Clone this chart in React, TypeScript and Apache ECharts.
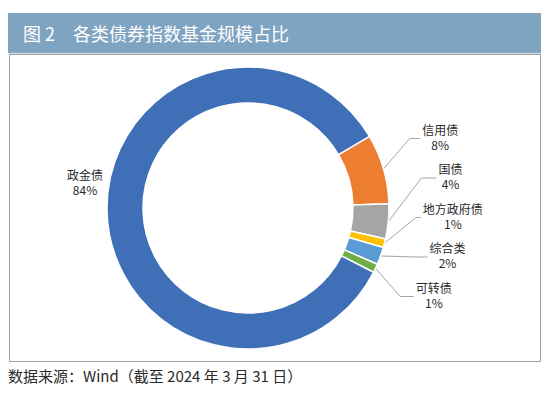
import React, { useEffect, useRef } from "react";
import * as echarts from "echarts";

// ---- data ----
const categories = ["信用债", "国债", "地方政府债", "综合类", "可转债", "政金债"];
const shares = [8, 4, 1, 2, 1, 84]; // %
const sliceColors = ["#ED7D31", "#A5A5A5", "#FFC000", "#5B9BD5", "#70AD47", "#3F6FB6"];
const titleNo = "图 2";
const titleText = "各类债券指数基金规模占比";
const sourceText = "数据来源：Wind（截至 2024 年 3 月 31 日）";

// ---- layout ----
const W = 550;
const H = 393;
const CX = 248;
const CY = 208;
const R_IN = 105;
const R_OUT = 141;
const START_ANGLE = 30.5;
const RIGHT_TOP = -71.5; // first right label centre, relative to CY
const PITCH = 39.5; // spacing between right labels
const LABEL_R = 205; // radius of the curve the label centres follow
const BEND_R = 176; // radius where leader lines bend
const MAIN_INDEX = 5;
const FONT = "'Noto Sans CJK SC', 'Noto Sans', sans-serif";

export default function App() {
  const ref = useRef<HTMLDivElement>(null);

  useEffect(() => {
    if (!ref.current) return;
    const chart = echarts.init(ref.current, undefined, { renderer: "svg" });
    const total = shares.reduce((a, b) => a + b, 0);

    const fallbackStart = (idx: number) => {
      let acc = 0;
      for (let j = 0; j < idx; j++) acc += shares[j];
      const mid = START_ANGLE - ((acc + shares[idx] / 2) / total) * 360;
      const rad = (mid * Math.PI) / 180;
      return [CX + R_OUT * Math.cos(rad), CY - R_OUT * Math.sin(rad)];
    };

    chart.setOption({
      animation: false,
      backgroundColor: "#ffffff",
      graphic: [
        {
          type: "rect",
          shape: { x: 8, y: 13, width: 533, height: 40 },
          style: { fill: "#7FA4C2" },
          silent: true,
        },
        {
          type: "line",
          shape: { x1: 8, y1: 53, x2: 541, y2: 53 },
          style: { stroke: "#9DB3C6", lineWidth: 1 },
          silent: true,
        },
        {
          type: "rect",
          shape: { x: 9.5, y: 54.5, width: 531, height: 307 },
          style: { fill: "none", stroke: "#A0A0A0", lineWidth: 1 },
          silent: true,
          z: -1,
        },
        {
          type: "text",
          x: 23,
          y: 33,
          style: {
            text: titleNo,
            fill: "#ffffff",
            font: `18px ${FONT}`,
            textVerticalAlign: "middle",
          },
          silent: true,
        },
        {
          type: "text",
          x: 73,
          y: 33,
          style: {
            text: titleText,
            fill: "#ffffff",
            font: `18px ${FONT}`,
            textVerticalAlign: "middle",
          },
          silent: true,
        },
        {
          type: "text",
          x: 8,
          y: 375,
          style: {
            text: sourceText,
            fill: "#2b2b2b",
            font: `15px ${FONT}`,
            textVerticalAlign: "middle",
          },
          silent: true,
        },
      ],
      series: [
        {
          type: "pie",
          center: [CX, CY],
          radius: [R_IN, R_OUT],
          startAngle: START_ANGLE,
          clockwise: true,
          avoidLabelOverlap: false,
          itemStyle: { borderColor: "#ffffff", borderWidth: 1.5 },
          label: {
            show: true,
            position: "outside",
            formatter: "{b}\n{c}%",
            color: "#2b2b2b",
            fontFamily: FONT,
            fontSize: 12,
            lineHeight: 15,
          },
          labelLine: {
            show: true,
            length: 30,
            length2: 8,
            smooth: false,
            lineStyle: { color: "#A6A6A6", width: 1 },
          },
          labelLayout: (params: any) => {
            const i = params.dataIndex;
            const rect = params.labelRect;
            if (i === MAIN_INDEX) {
              return {
                x: CX - R_OUT - 4 - rect.width / 2,
                y: CY - 26,
                align: "center",
                verticalAlign: "middle",
              };
            }
            const dy = RIGHT_TOP + i * PITCH;
            const y = CY + dy;
            const xc = CX + Math.sqrt(LABEL_R * LABEL_R - dy * dy);
            const left = xc - rect.width / 2;
            const endX = left - 2;
            const lineY = y + 2;
            const ldy = lineY - CY;
            const bendX = Math.min(CX + Math.sqrt(BEND_R * BEND_R - ldy * ldy), endX - 5);
            const pts = params.labelLinePoints;
            const start = pts && pts[0] ? [pts[0][0], pts[0][1]] : fallbackStart(i);
            return {
              x: xc,
              y,
              align: "center",
              verticalAlign: "middle",
              labelLinePoints: [start, [bendX, lineY], [endX, lineY]],
            };
          },
          data: categories.map((name, idx) => ({
            name,
            value: shares[idx],
            itemStyle: { color: sliceColors[idx] },
            labelLine: idx === MAIN_INDEX ? { show: false } : undefined,
          })),
        },
      ],
    });

    return () => chart.dispose();
  }, []);

  return (
    <div
      ref={ref}
      style={{ position: "fixed", left: 0, top: 0, width: W, height: H, background: "#fff" }}
    />
  );
}
